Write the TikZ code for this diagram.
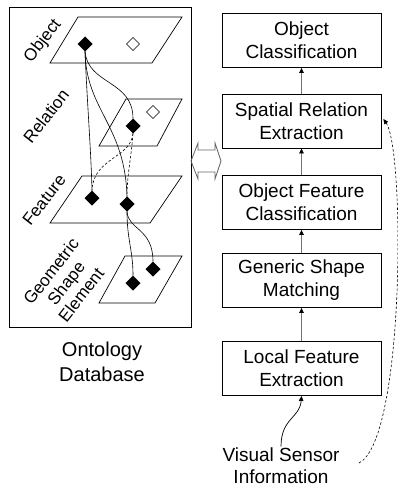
\documentclass[tikz,border=0pt]{standalone}
\usepackage{fontspec}
\setmainfont{Liberation Sans}
\usetikzlibrary{shapes.geometric,arrows.meta}

\tikzset{
  plane/.style={draw=black, line width=0.7pt},
  fdot/.style={diamond, fill=black, inner sep=0pt, outer sep=0pt, minimum size=15pt},
  hdot/.style={diamond, draw=black, fill=white, line width=0.7pt, inner sep=0pt, outer sep=0pt, minimum size=13pt},
  link/.style={line width=0.6pt},
  dlink/.style={line width=0.6pt, dash pattern=on 2.5pt off 2pt},
  layer/.style={rotate=52, font=\fontsize{17}{19}\selectfont, align=center},
  stage/.style={draw=black, line width=0.8pt, minimum width=159pt, minimum height=54pt,
                inner sep=0pt, align=center, font=\fontsize{19}{23}\selectfont},
  flow/.style={draw=black!55, line width=0.7pt,
               -{Triangle[length=5pt,width=4.5pt,color=black]}},
  feedback/.style={line width=0.6pt, dash pattern=on 2.5pt off 2pt,
               -{Triangle[length=5pt,width=4.5pt]}}
}

\begin{document}
\begin{tikzpicture}[x=1pt,y=-1pt]
\useasboundingbox (0,0) rectangle (397,487);

% ontology database frame
\draw[line width=0.8pt] (9,7) rectangle (191,327);

% the four layers
\draw[plane] (78,17) -- (182,17) -- (152,63) -- (50,63) -- cycle;
\draw[plane] (126,99) -- (182,99) -- (157,146) -- (99,146) -- cycle;
\draw[plane] (82,176) -- (182,176) -- (150,223) -- (50,223) -- cycle;
\draw[plane] (125,256) -- (182,256) -- (155,303) -- (99,303) -- cycle;

% layer names
\node[layer] (lobj) at (43,41) {Object};
\node[layer] (lrel) at (46,116) {Relation};
\node[layer] (lfea) at (44,200) {Feature};
\node[layer] (lgeo) at (66,283) {Geometric\\Shape\\Element};

% instances on each layer
\node[fdot] (o1) at (85,44) {};
\node[hdot] (o2) at (133,44) {};
\node[fdot] (r1) at (133,126) {};
\node[hdot] (r2) at (153,112) {};
\node[fdot] (f1) at (92,198) {};
\node[fdot] (f2) at (127,204) {};
\node[fdot] (g1) at (133,283) {};
\node[fdot] (g2) at (153,269) {};

% links between instances
\draw[link] (o1.south) .. controls (87,100) and (91,150) .. (f1.north);
\draw[link] (o1.south) .. controls (88,85) and (133,80) .. (r1.north);
\draw[link] (o1.south) .. controls (86,110) and (125,125) .. (f2.north);
\draw[dlink] (r1.south) .. controls (131,158) and (93,158) .. (f1.north);
\draw[dlink] (r1.south) .. controls (131,160) and (127,175) .. (f2.north);
\draw[link] (f2.south) .. controls (127,240) and (133,250) .. (g1.north);
\draw[link] (f2.south) .. controls (128,230) and (153,228) .. (g2.north);

\node[font=\fontsize{20}{25}\selectfont, align=center] (onto) at (102,362) {Ontology\\Database};

% exchange between database and pipeline
\draw[draw=black!60, line width=0.8pt]
  (191,161) -- (198,143) -- (198,150) -- (215,150) -- (215,143) -- (221,161)
  -- (215,179) -- (215,172) -- (198,172) -- (198,179) -- cycle;

% processing pipeline
\node[stage] (oc) at (301.5,40.5) {Object\\Classification};
\node[stage] (sr) at (301.5,121) {Spatial Relation\\Extraction};
\node[stage] (of) at (301.5,202.5) {Object Feature\\Classification};
\node[stage] (gs) at (301.5,280.5) {Generic Shape\\Matching};
\node[stage] (lf) at (301.5,368.5) {Local Feature\\Extraction};

\node[font=\fontsize{19}{22}\selectfont, align=center] (vs) at (281,466) {Visual Sensor\\Information};

\draw[flow] (lf.north) -- (gs.south);
\draw[flow] (gs.north) -- (of.south);
\draw[flow] (of.north) -- (sr.south);
\draw[flow] (sr.north) -- (oc.south);

\draw[line width=0.7pt, -{Triangle[length=5pt,width=4.5pt]}]
  ([yshift=-2pt]vs.north) .. controls (281,418) and (300,418) .. (lf.south);

\coordinate (fbstart) at (359,463);
\draw[feedback] (fbstart) .. controls (405,440) and (405,150) .. ([xshift=2pt,yshift=2pt]sr.east);
\end{tikzpicture}
\end{document}
